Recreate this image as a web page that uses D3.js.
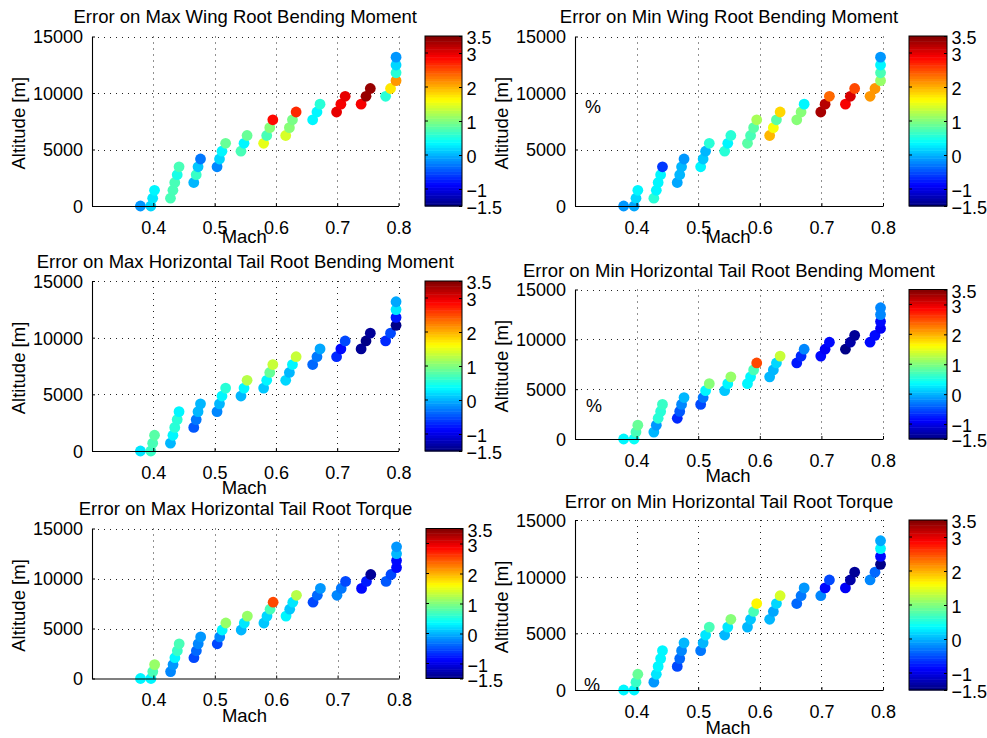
<!DOCTYPE html>
<html>
<head>
<meta charset="utf-8">
<script src="https://cdn.jsdelivr.net/npm/d3@7"></script>
<style>
  html, body { margin: 0; padding: 0; background: #fff; }
  svg { display: block; }
  text { font-family: "Liberation Sans", Arial, Helvetica, sans-serif; fill: #000; }
</style>
</head>
<body>
<svg id="chart" width="987" height="738"></svg>
<script>
// ---------------- DATA ----------------
const mach = [0.379, 0.396, 0.399, 0.402,
  0.428, 0.432, 0.435, 0.439, 0.442,
  0.466, 0.470, 0.473, 0.477,
  0.504, 0.508, 0.512, 0.518,
  0.543, 0.548, 0.553,
  0.580, 0.585, 0.590, 0.595,
  0.616, 0.622, 0.627, 0.633,
  0.660, 0.667, 0.672,
  0.699, 0.706, 0.713,
  0.739, 0.747, 0.754,
  0.779, 0.787, 0.796, 0.796, 0.796, 0.796];
const altitude = [0, 0, 690, 1390,
  690, 1390, 2080, 2770, 3470,
  2080, 2770, 3470, 4160,
  3470, 4160, 4850, 5550,
  4850, 5550, 6240,
  5550, 6240, 6930, 7630,
  6240, 6930, 7630, 8320,
  7630, 8320, 9010,
  8320, 9010, 9710,
  9010, 9710, 10400,
  9710, 10400, 11090, 11790, 12480, 13170];

const errMaxWingBM = [-0.1, 0.2, 0.25, 0.3, 0.7, 0.7, 0.75, 0.5, 0.7, 0.0, 0.65, 0.1, -0.3, -0.2, 0.15, 0.3, 0.85, 0.75, 0.35, 0.85, 1.5, 0.75, 1.05, 2.85, 1.45, 1.0, 0.95, 2.7, 0.3, 0.35, 0.6, 3.0, 2.95, 3.0, 2.95, 3.4, 3.35, 0.6, 1.75, 2.15, 0.6, 0.15, -0.15];
const errMinWingBM = [-0.1, -0.05, 0.2, 0.3, 0.55, 0.35, 0.3, 0.3, -0.6, -0.05, 0.05, 0.05, -0.15, 0.3, 0.1, 0.0, 0.6, 0.6, 0.3, 0.6, 0.8, 0.7, 0.8, 1.2, 2.0, 1.6, 0.8, 1.8, 1.05, 1.0, 0.3, 3.3, 3.25, 2.4, 2.9, 3.1, 2.5, 2.1, 2.1, 1.15, 0.7, 0.3, -0.15];
const errMaxHTBM = [0.25, 0.65, 0.7, 0.8, 0.05, 0.3, 0.6, 0.55, 0.35, -0.45, -0.3, 0.0, 0.0, -0.25, 0.0, 0.3, 0.6, 0.05, 0.35, 1.25, 0.1, 0.3, 0.85, 1.35, 0.15, 0.05, 0.3, 1.35, -0.4, -0.3, -0.05, -0.7, -0.85, -0.55, -1.35, -1.45, -1.4, -0.65, -0.55, -1.5, -0.75, 0.25, -0.05];
const errMinHTBM = [0.35, 0.4, 0.7, 0.9, 0.05, -0.15, 0.6, 0.6, 0.65, -0.7, -0.45, -0.2, 0.0, -0.55, -0.3, 0.3, 1.0, 0.1, 0.3, 1.1, 0.3, 0.35, 0.7, 2.5, 0.05, 0.0, 0.2, 1.35, -0.75, -0.65, -0.25, -0.8, -0.9, -0.8, -1.45, -1.3, -1.35, -0.85, -0.8, -0.95, -0.85, -0.25, -0.25];
const errMaxHTTorque = [0.35, 0.35, 0.7, 1.1, -0.2, -0.1, 0.3, 0.65, 0.7, -0.55, -0.4, -0.2, -0.1, -0.5, -0.2, 0.3, 1.1, 0.0, 0.25, 1.1, 0.1, 0.2, 0.7, 2.5, 0.3, 0.1, 0.25, 1.3, -0.5, -0.4, -0.15, -0.25, -0.3, -0.5, -0.85, -0.75, -1.4, -0.45, -0.5, -0.85, -0.8, 0.0, -0.15];
const errMinHTTorque = [0.3, 0.35, 0.65, 0.85, -0.1, 0.25, 0.35, 0.35, 0.35, -0.55, -0.35, -0.2, 0.0, -0.3, 0.0, 0.25, 0.75, 0.05, 0.25, 1.0, 0.05, 0.1, 0.7, 1.65, 0.05, -0.05, 0.15, 1.4, -0.35, -0.3, -0.15, -0.2, -0.85, -0.55, -0.9, -1.3, -1.35, -0.2, -0.35, -1.45, -0.8, 0.3, -0.05];

const titles = [
  "Error on Max Wing Root Bending Moment",
  "Error on Min Wing Root Bending Moment",
  "Error on Max Horizontal Tail Root Bending Moment",
  "Error on Min Horizontal Tail Root Bending Moment",
  "Error on Max Horizontal Tail Root Torque",
  "Error on Min Horizontal Tail Root Torque"
];
const seriesValues = [errMaxWingBM, errMinWingBM, errMaxHTBM, errMinHTBM, errMaxHTTorque, errMinHTTorque];
const showPercent = [false, true, false, true, false, true];

const xTicks = [0.4, 0.5, 0.6, 0.7, 0.8];
const xTickLabels = ["0.4", "0.5", "0.6", "0.7", "0.8"];
const yTicks = [0, 5000, 10000, 15000];
const yTickLabels = ["0", "5000", "10000", "15000"];
const cTicks = [3.5, 3, 2, 1, 0, -1, -1.5];
const cTickLabels = ["3.5", "3", "2", "1", "0", "\u22121", "\u22121.5"];
const xDomain = [0.3, 0.8];
const yDomain = [0, 15000];
const cDomain = [-1.5, 3.5];

// ---------------- LAYOUT ----------------
const layout = [
  { ax: [92, 398.5, 36.5, 206],  cb: [425, 462, 36, 206],   titleY: 23,    machY: 242.5, pct: [585, 113] },
  { ax: [575, 883, 36.5, 206],   cb: [909, 947, 36, 206],   titleY: 23,    machY: 242.5, pct: [585, 113] },
  { ax: [92, 398.5, 281, 451],   cb: [425, 462, 281, 451],  titleY: 268,   machY: 493.5, pct: null },
  { ax: [575, 883, 289.5, 439],  cb: [909, 947, 289.5, 439],titleY: 276.5, machY: 481.5, pct: [586, 412] },
  { ax: [92, 399, 528.5, 678.5], cb: [426, 463, 528.5, 678.5], titleY: 515, machY: 722, pct: null },
  { ax: [575, 883, 520, 690],    cb: [909, 947, 520, 690],  titleY: 507.5, machY: 733.5, pct: [584, 691] }
];

// MATLAB-like jet(64)
const NC = 64;
function jet(x) {
  const c = v => Math.max(0, Math.min(1, v));
  const r = c(Math.min(4 * x - 1.5, -4 * x + 4.5));
  const g = c(Math.min(4 * x - 0.5, -4 * x + 3.5));
  const b = c(Math.min(4 * x + 0.5, -4 * x + 2.5));
  return d3.rgb(r * 255, g * 255, b * 255).formatHex();
}
const jetColors = d3.range(NC).map(i => jet((i + 0.5) / NC));
const colorScale = d3.scaleQuantize().domain(cDomain).range(jetColors);

const svg = d3.select("#chart");
const FS = 18;
const FT = 18.5;

layout.forEach((L, k) => {
  const [x0, x1, y0, y1] = L.ax;
  const x = d3.scaleLinear().domain(xDomain).range([x0, x1]);
  const y = d3.scaleLinear().domain(yDomain).range([y1, y0]);
  const g = svg.append("g");

  // grid (dotted)
  g.append("g").selectAll("line.gx").data(xTicks).join("line")
    .attr("x1", d => Math.round(x(d)) + 0.5).attr("x2", d => Math.round(x(d)) + 0.5)
    .attr("y1", y0).attr("y2", y1)
    .attr("stroke", "#222").attr("stroke-width", 1).attr("stroke-dasharray", "1,5");
  g.append("g").selectAll("line.gy").data(yTicks.filter(d => d > 0)).join("line")
    .attr("y1", d => Math.round(y(d)) + 0.5).attr("y2", d => Math.round(y(d)) + 0.5)
    .attr("x1", x0).attr("x2", x1)
    .attr("stroke", "#222").attr("stroke-width", 1).attr("stroke-dasharray", "1,5");

  // points
  const vals = seriesValues[k];
  g.append("g").selectAll("circle").data(mach.map((m, i) => ({ m, a: altitude[i], v: vals[i] })))
    .join("circle")
    .attr("cx", d => x(d.m)).attr("cy", d => y(d.a)).attr("r", 5.4)
    .attr("fill", d => colorScale(d.v));

  // axes
  const xAxis = d3.axisBottom(x).tickValues(xTicks).tickFormat((d, i) => xTickLabels[i]).tickSizeInner(-3).tickSizeOuter(0).tickPadding(9);
  const gx = g.append("g").attr("transform", `translate(0,${y1})`).call(xAxis);
  const yAxis = d3.axisLeft(y).tickValues(yTicks).tickFormat((d, i) => yTickLabels[i]).tickSizeInner(-3).tickSizeOuter(0).tickPadding(9);
  const gy = g.append("g").attr("transform", `translate(${x0},0)`).call(yAxis);
  [gx, gy].forEach(a => {
    a.select(".domain").attr("stroke", "#000").attr("stroke-width", 1.1);
    a.selectAll(".tick line").attr("stroke", "#000");
    a.selectAll(".tick text").attr("font-size", FS).attr("font-family", "Liberation Sans, Arial, sans-serif").attr("fill", "#000");
  });
  gx.selectAll(".tick text").attr("dy", "1.05em");
  gy.selectAll(".tick text").attr("dy", "0.36em");

  // title
  g.append("text").attr("x", (x0 + x1) / 2).attr("y", L.titleY).attr("text-anchor", "middle")
    .attr("font-size", FT).text(titles[k]);
  // x label
  g.append("text").attr("x", (x0 + x1) / 2 - 1).attr("y", L.machY).attr("text-anchor", "middle")
    .attr("font-size", FT).text("Mach");
  // y label
  g.append("text").attr("transform", `translate(${x0 - 67},${(y0 + y1) / 2 + 2}) rotate(-90)`)
    .attr("text-anchor", "middle").attr("font-size", FT).text("Altitude [m]");
  // percent
  if (showPercent[k] && L.pct) {
    g.append("text").attr("x", L.pct[0]).attr("y", L.pct[1]).attr("font-size", FS).text("%");
  }

  // colorbar
  const [c0, c1, cy0, cy1] = L.cb;
  const cs = d3.scaleLinear().domain(cDomain).range([cy1, cy0]);
  const step = (cDomain[1] - cDomain[0]) / NC;
  const cbg = g.append("g");
  cbg.selectAll("rect").data(jetColors).join("rect")
    .attr("x", c0).attr("width", c1 - c0)
    .attr("y", (d, i) => cs(cDomain[0] + (i + 1) * step))
    .attr("height", (d, i) => cs(cDomain[0] + i * step) - cs(cDomain[0] + (i + 1) * step) + 0.5)
    .attr("fill", d => d);
  cbg.append("rect").attr("x", c0).attr("y", cy0).attr("width", c1 - c0).attr("height", cy1 - cy0)
    .attr("fill", "none").attr("stroke", "#000").attr("stroke-width", 1);
  const cAxis = d3.axisRight(cs).tickValues(cTicks).tickFormat((d, i) => cTickLabels[i]).tickSizeInner(-3).tickSizeOuter(0).tickPadding(4.5);
  const gc = cbg.append("g").attr("transform", `translate(${c1},0)`).call(cAxis);
  gc.select(".domain").remove();
  gc.selectAll(".tick line").attr("stroke", "#000");
  gc.selectAll(".tick text").attr("font-size", FS).attr("font-family", "Liberation Sans, Arial, sans-serif").attr("fill", "#000").attr("dy", "0.42em");
  // inner ticks on left side of colorbar
  cbg.append("g").selectAll("line").data(cTicks.filter(d => d > cDomain[0] && d < cDomain[1])).join("line")
    .attr("x1", c0).attr("x2", c0 + 3).attr("y1", d => cs(d)).attr("y2", d => cs(d)).attr("stroke", "#000");
});
</script>
</body>
</html>
